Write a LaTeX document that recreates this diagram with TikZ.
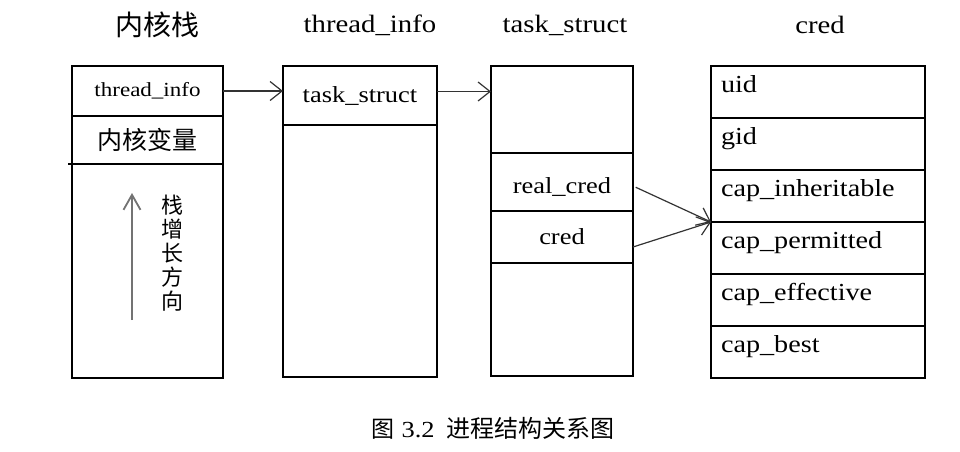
\documentclass[tikz,border=0pt]{standalone}
\usepackage{fontspec}
\setmainfont{Liberation Serif}[FakeStretch=1.15]
\newfontfamily\cjk{Noto Sans CJK SC}
\usepackage{tikz}
\usetikzlibrary{arrows.meta, positioning}

\begin{document}
\begin{tikzpicture}[
    x=1pt, y=-1pt,
    every node/.style={font=\fontsize{23}{26}\selectfont, inner sep=0pt, outer sep=0pt},
    title/.style={font=\fontsize{25}{28}\selectfont},
    cntitle/.style={font=\cjk\fontsize{28}{30}\selectfont},
    field/.style={rectangle, draw, line width=1.3pt, anchor=north west, text width=#1, align=center},
    credrow/.style={rectangle, draw, line width=1.3pt, anchor=north west, minimum width=214pt, minimum height=52pt,
                    inner xsep=10pt, text width=194pt, align=left, text height=17pt, text depth=16pt,
                    font=\fontsize{24.5}{27}\selectfont},
    ptr/.style={-{Straight Barb[length=12pt, width=19pt]}, line width=1.2pt, black!80},
]

\useasboundingbox (0,0) rectangle (960,451);

% titles
\node[cntitle] (ttstack) at (157,25) {内核栈};
\node[title] (ttinfo) at (370,25) {thread\_info};
\node[title] (tttask) at (565,25) {task\_struct};
\node[title] (ttcred) at (820,25) {cred};

% kernel stack
\node[field=151pt, minimum height=50pt, font=\fontsize{20}{22}\selectfont] (st1) at (72,66) {thread\_info};
\node[field=151pt, minimum height=48pt, font=\cjk\fontsize{25}{27}\selectfont, below=0pt of st1] (st2) {内核变量};
\node[field=151pt, minimum height=214pt, below=0pt of st2] (st3) {};
\draw[line width=1.3pt] (st3.north west) -- +(-4,0);
\coordinate (growlo) at (132,320);
\coordinate (growhi) at (132,193);
\draw[-{Straight Barb[length=15pt, width=17pt]}, line width=1.8pt, black!55] (growlo) -- (growhi);
\node[font=\cjk\fontsize{22}{24}\selectfont, align=center] (growtxt) at (172,253) {栈\\增\\长\\方\\向};

% thread_info
\node[field=154pt, minimum height=59pt] (ti1) at (283,66) {task\_struct};
\node[field=154pt, minimum height=252pt, below=0pt of ti1] (ti2) {};

% task_struct
\node[field=142pt, minimum height=87pt] (tk1) at (491,66) {};
\node[field=142pt, minimum height=58pt, text height=28pt, text depth=5pt, below=0pt of tk1] (tk2) {real\_cred};
\node[field=142pt, minimum height=52pt, below=0pt of tk2] (tk3) {cred};
\node[field=142pt, minimum height=113pt, below=0pt of tk3] (tk4) {};

% cred
\node[credrow] (cr1) at (711,66) {uid};
\node[credrow, below=0pt of cr1] (cr2) {gid};
\node[credrow, below=0pt of cr2] (cr3) {cap\_inheritable};
\node[credrow, below=0pt of cr3] (cr4) {cap\_permitted};
\node[credrow, below=0pt of cr4] (cr5) {cap\_effective};
\node[credrow, below=0pt of cr5] (cr6) {cap\_best};

% pointers
\draw[ptr] (st1.east) -- (ti1.west |- st1.east);
\draw[ptr] ([yshift=4pt]ti1.east) -- ([yshift=4pt]ti1.east -| tk1.west);
\draw[ptr, shorten <=3pt] ([yshift=-4pt]tk2.east) -- (cr3.south west);
\draw[ptr] ([yshift=-10pt]tk3.east) -- (cr3.south west);

\node[font=\fontsize{23}{25}\selectfont] (caption) at (493,428) {{\cjk 图} 3.2\enspace{\cjk\fontsize{24}{26}\selectfont 进程结构关系图}};

\end{tikzpicture}
\end{document}
